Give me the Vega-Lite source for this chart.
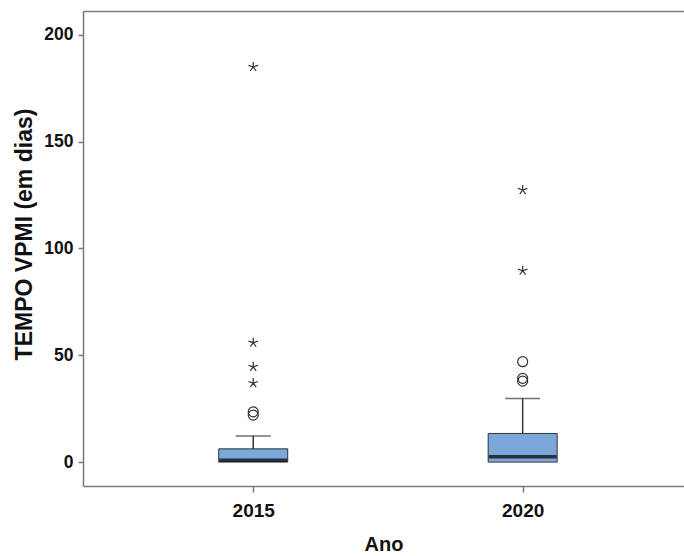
{
  "$schema": "https://vega.github.io/schema/vega-lite/v6.json",
  "width": 601,
  "height": 475,
  "autosize": {"type": "none"},
  "padding": {"left": 83, "top": 11, "right": 0, "bottom": 70},
  "background": "white",
  "config": {
    "view": {"stroke": null, "strokeWidth": 0},
    "font": "Liberation Sans",
    "axis": {
      "domainColor": "#7a7a7a",
      "domainWidth": 1.5,
      "tickColor": "#7a7a7a",
      "tickWidth": 1.5,
      "grid": false,
      "labelFont": "Liberation Sans",
      "labelFontWeight": "bold",
      "labelColor": "#111111",
      "titleFont": "Liberation Sans",
      "titleFontWeight": "bold",
      "titleColor": "#111111"
    }
  },
  "datasets": {
    "caixas": [
      {"ano": 2015, "q1": 0, "mediana": 0.8, "q3": 6.2, "bigode": 12.2},
      {"ano": 2020, "q1": 0, "mediana": 2.5, "q3": 13.4, "bigode": 29.8}
    ],
    "atipicos": [
      {"ano": 2015, "valor": 22, "tipo": "atípico"},
      {"ano": 2015, "valor": 23.5, "tipo": "atípico"},
      {"ano": 2015, "valor": 37, "tipo": "extremo"},
      {"ano": 2015, "valor": 44.6, "tipo": "extremo"},
      {"ano": 2015, "valor": 55.9, "tipo": "extremo"},
      {"ano": 2015, "valor": 185, "tipo": "extremo"},
      {"ano": 2020, "valor": 37.9, "tipo": "atípico"},
      {"ano": 2020, "valor": 39.2, "tipo": "atípico"},
      {"ano": 2020, "valor": 47, "tipo": "atípico"},
      {"ano": 2020, "valor": 89.6, "tipo": "extremo"},
      {"ano": 2020, "valor": 127.4, "tipo": "extremo"}
    ]
  },
  "resolve": {"axis": {"x": "independent"}},
  "layer": [
    {
      "data": {"name": "caixas"},
      "mark": {"type": "rule", "color": "#333333", "strokeWidth": 1.5},
      "encoding": {
        "x": {
          "field": "ano", "type": "quantitative",
          "scale": {"domain": [2011.934, 2022.901], "nice": false, "zero": false},
          "axis": {
            "title": "Ano", "values": [2015, 2020], "format": "d", "labelFontSize": 19, "titleFontSize": 20, "domainColor": "#7b7b7b",
            "tickSize": 6, "labelPadding": 9, "titleY": 64, "titleBaseline": "alphabetic"
          }
        },
        "y": {
          "field": "q3", "type": "quantitative",
          "scale": {"domain": [-11.2, 211.2], "nice": false, "zero": false},
          "axis": {
            "title": "TEMPO VPMI (em dias)", "values": [0, 50, 100, 150, 200], "domainColor": "#797979",
            "labelFontSize": 17.5, "titleFontSize": 23, "tickSize": 5, "labelPadding": 5,
            "titleX": -59, "titleY": 223, "titleBaseline": "middle", "titleAngle": -90
          }
        },
        "y2": {"field": "bigode"}
      }
    },
    {
      "data": {"name": "caixas"},
      "mark": {"type": "tick", "orient": "horizontal", "color": "#333333", "thickness": 1.5, "size": 35},
      "encoding": {
        "x": {"field": "ano", "type": "quantitative", "axis": {"orient": "top", "labels": false, "ticks": false, "title": null, "domainColor": "#7c7c7c"}},
        "y": {"field": "bigode", "type": "quantitative"}
      }
    },
    {
      "data": {"name": "caixas"},
      "mark": {"type": "bar", "orient": "vertical", "size": 69, "fill": "#7ba7d9", "stroke": "#333333", "strokeWidth": 1},
      "encoding": {
        "x": {"field": "ano", "type": "quantitative", "axis": null},
        "y": {"field": "q1", "type": "quantitative"},
        "y2": {"field": "q3"}
      }
    },
    {
      "data": {"name": "caixas"},
      "mark": {"type": "tick", "orient": "horizontal", "color": "#000000", "thickness": 3.5, "size": 68},
      "encoding": {
        "x": {"field": "ano", "type": "quantitative", "axis": null},
        "y": {"field": "mediana", "type": "quantitative"}
      }
    },
    {
      "data": {"name": "atipicos"},
      "mark": {"type": "point", "filled": false, "stroke": "#333333", "strokeWidth": 1.2, "size": 100, "opacity": 1},
      "encoding": {
        "x": {"field": "ano", "type": "quantitative", "axis": null},
        "y": {"field": "valor", "type": "quantitative"},
        "shape": {
          "field": "tipo", "type": "nominal", "legend": null,
          "scale": {
            "domain": ["atípico", "extremo"],
            "range": ["circle", "M0,0L0,-1M0,0L0.951,-0.309M0,0L0.588,0.809M0,0L-0.588,0.809M0,0L-0.951,-0.309"]
          }
        }
      }
    }
  ]
}
